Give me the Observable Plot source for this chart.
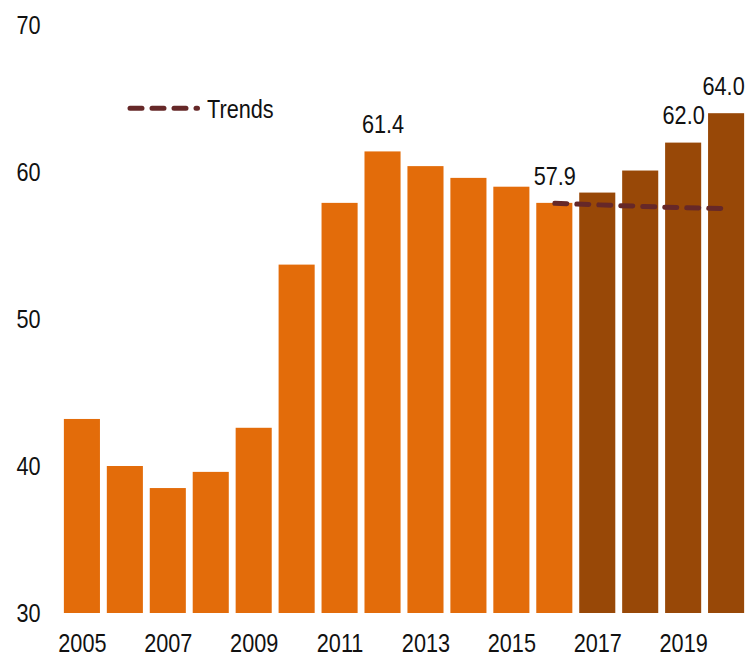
<!DOCTYPE html>
<html>
<head>
<meta charset="utf-8">
<script src="https://cdn.jsdelivr.net/npm/d3@7"></script>
<script src="https://cdn.jsdelivr.net/npm/@observablehq/plot@0.6"></script>
<style>
  html, body { margin: 0; padding: 0; background: #fff; }
  #wrap { position: relative; width: 752px; height: 657px; }
  #legend { position: absolute; left: 120px; top: 90px; }
</style>
</head>
<body>
<div id="wrap"></div>
<script>
const years = [2005, 2006, 2007, 2008, 2009, 2010, 2011, 2012, 2013, 2014, 2015, 2016, 2017, 2018, 2019, 2020];
const values = [43.2, 40.0, 38.5, 39.6, 42.6, 53.7, 57.9, 61.4, 60.4, 59.6, 59.0, 57.9, 58.6, 60.1, 62.0, 64.0];
const projectedFrom = 2017;
const labeledYears = [2012, 2016, 2019, 2020];
const trendYears = [2016, 2017, 2018, 2019, 2020];
const trendValues = [57.9, 57.8, 57.7, 57.6, 57.55];
const xTickYears = [2005, 2007, 2009, 2011, 2013, 2015, 2017, 2019];
const yTicks = [30, 40, 50, 60, 70];
const legendLabel = "Trends";

const ORANGE = "#E36C0A";
const DARK = "#984807";
const TREND = "#662828";
const FONT = '"Liberation Sans", Arial, sans-serif';
const FS = 25.5;
const SQUEEZE = 0.85;

const bars = years.map((year, i) => ({year, value: values[i], projected: year >= projectedFrom}));
const labels = bars.filter(d => labeledYears.includes(d.year));
const lastYear = years[years.length - 1];
const innerLabels = labels.filter(d => d.year !== lastYear);
const edgeLabels = labels.filter(d => d.year === lastYear);
const trend = trendYears.map((year, i) => ({year, value: trendValues[i]}));

const chart = Plot.plot({
  width: 752,
  height: 657,
  marginTop: 25,
  marginBottom: 44,
  marginLeft: 57,
  marginRight: 1,
  style: {fontFamily: FONT, fontSize: FS + "px", color: "#111", background: "transparent", overflow: "visible"},
  x: {type: "band", domain: years, padding: 0.16, round: false, label: null},
  y: {domain: [30, 70], label: null},
  marks: [
    Plot.barY(bars, {x: "year", y1: () => 30, y2: "value", fill: d => d.projected ? DARK : ORANGE}),
    Plot.line(trend, {x: "year", y: "value", stroke: TREND, strokeWidth: 5, strokeDasharray: "12,10", strokeLinecap: "round"}),
    Plot.text(innerLabels, {x: "year", y: "value", text: d => d.value.toFixed(1), dy: -27, fill: "#111", fontSize: FS}),
    Plot.text(edgeLabels, {x: "year", y: "value", text: d => d.value.toFixed(1), dy: -27, dx: -3, fill: "#111", fontSize: FS}),
    Plot.axisX({ticks: xTickYears, tickSize: 0, tickPadding: 20, tickFormat: d => String(d), fontSize: FS, label: null}),
    Plot.axisY({ticks: yTicks, tickSize: 0, tickPadding: 17, fontSize: FS, label: null})
  ]
});
const wrap = document.getElementById("wrap");
wrap.appendChild(chart);

// legend (inside plot area, top-left)
const ns = "http://www.w3.org/2000/svg";
const lg = document.createElementNS(ns, "svg");
lg.setAttribute("id", "legend");
lg.setAttribute("width", 200); lg.setAttribute("height", 40);
lg.style.fontFamily = FONT;
const ln = document.createElementNS(ns, "line");
ln.setAttribute("x1", 10); ln.setAttribute("x2", 77.5); ln.setAttribute("y1", 18.3); ln.setAttribute("y2", 18.3);
ln.setAttribute("stroke", TREND); ln.setAttribute("stroke-width", 5);
ln.setAttribute("stroke-dasharray", "12,10"); ln.setAttribute("stroke-linecap", "round");
lg.appendChild(ln);
const lt = document.createElementNS(ns, "text");
lt.setAttribute("x", 87); lt.setAttribute("y", 28.3);
lt.setAttribute("font-size", FS); lt.setAttribute("fill", "#111");
lt.textContent = legendLabel;
lg.appendChild(lt);
wrap.appendChild(lg);

// condense all text horizontally (narrow typeface look)
for (const t of wrap.querySelectorAll("text")) {
  const len = t.getComputedTextLength();
  if (len > 0) {
    t.setAttribute("textLength", (len * SQUEEZE).toFixed(2));
    t.setAttribute("lengthAdjust", "spacingAndGlyphs");
  }
}
</script>
</body>
</html>
